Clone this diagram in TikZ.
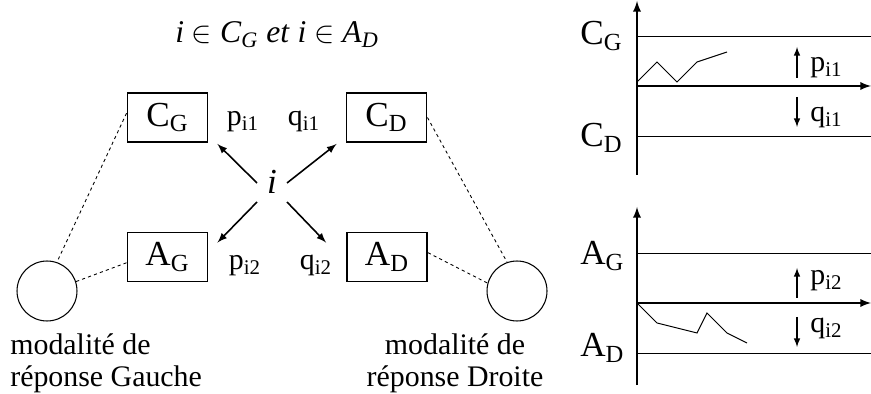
\documentclass[tikz,border=0pt]{standalone}
\usepackage{fontspec}
\setmainfont{Liberation Serif}
\usetikzlibrary{positioning}

\begin{document}
\begin{tikzpicture}[x=0.02cm, y=-0.02cm,
	boite/.style={draw, line width=1.1pt, minimum width=1.6cm, minimum height=0.98cm, inner sep=0pt, font=\fontsize{20}{23}\selectfont},
	etiq/.style={inner sep=0pt, font=\fontsize{17}{18.2}\selectfont},
	grand/.style={inner sep=0pt, font=\fontsize{20}{23}\selectfont},
	rond/.style={circle, draw, line width=0.6pt, minimum size=1.2cm, inner sep=0pt},
	fleche/.style={-latex, line width=0.9pt},
	pointille/.style={dash pattern=on 1.8pt off 1.8pt, line width=0.5pt},
	mince/.style={line width=0.55pt},
	axe/.style={-latex, line width=1.1pt}]

\useasboundingbox (0,0) rectangle (871,394);

% Titre
\node[inner sep=0pt, font=\fontsize{18}{20}\selectfont, anchor=base] (titre) at (277,43)
	{\textit{i} $\in$ \textit{C}\textsubscript{\textit{G}} \textit{et} \textit{i} $\in$ \textit{A}\textsubscript{\textit{D}}};

% Boites
\node[boite] (CG) at (167.5,117.5) {C\textsubscript{G}};
\node[boite] (CD) at (386.5,117.5) {C\textsubscript{D}};
\node[boite] (AG) at (167.5,257) {A\textsubscript{G}};
\node[boite] (AD) at (387,257) {A\textsubscript{D}};

\node[etiq, anchor=base] (p1) at (243,126) {p\textsubscript{i1}};
\node[etiq, anchor=base] (q1) at (304,126) {q\textsubscript{i1}};
\node[etiq, anchor=base] (p2) at (245,270) {p\textsubscript{i2}};
\node[etiq, anchor=base] (q2) at (316,270) {q\textsubscript{i2}};

\node[inner sep=0pt, font=\fontsize{20}{22}\selectfont] (i) at (272,181.5) {\textit{i}};

\draw[fleche] ([shift={(-15,1.5)}]i.center) -- ([shift={(9,1)}]CG.south east);
\draw[fleche] ([shift={(15,1.5)}]i.center) -- ([shift={(-9,1)}]CD.south west);
\draw[fleche] ([shift={(-15,20.5)}]i.center) -- ([shift={(9,11)}]AG.north east);
\draw[fleche] ([shift={(15,20.5)}]i.center) -- ([shift={(-20,11)}]AD.north west);

% Modalites
\node[rond] (mg) at (47,291) {};
\node[rond] (md) at (517,291) {};

\draw[pointille] (CG.174) -- (mg.71);
\draw[pointille] (AG.188) -- (mg.18);
\draw[pointille] (CD.east) -- (md.109);
\draw[pointille] (AD.6) -- (md.165);

\node[etiq, anchor=north west, align=left] (tg) at (10,333) {modalité de\\réponse Gauche};
\node[etiq, anchor=north, align=center] (td) at (455,333) {modalité de\\réponse Droite};

% Graphiques
\draw[axe] (637,175) -- (637,1);
\draw[axe] (637,385) -- (637,207);
\foreach \y in {36,136,253,353}
	\draw[mince] (637,\y) -- (871,\y);
\foreach \y in {86,303}
	\draw[axe] (637,\y) -- (871,\y);

\draw[mince] (637,82) -- (657,62) -- (677,82) -- (697,62) -- (727,52);
\draw[mince] (637,303) -- (657,323) -- (697,333) -- (707,313) -- (727,333) -- (747,343);

\draw[-latex, line width=0.7pt] (797,78) -- (797,47);
\draw[-latex, line width=0.7pt] (797,97) -- (797,127);
\draw[-latex, line width=0.7pt] (797,298) -- (797,268);
\draw[-latex, line width=0.7pt] (797,317) -- (797,347);

\node[grand, anchor=base west] (gCG) at (580,45) {C\textsubscript{G}};
\node[grand, anchor=base west] (gCD) at (580,147) {C\textsubscript{D}};
\node[grand, anchor=base west] (gAG) at (580,265) {A\textsubscript{G}};
\node[grand, anchor=base west] (gAD) at (580,357) {A\textsubscript{D}};

\node[etiq, anchor=base west] (gp1) at (810,72) {p\textsubscript{i1}};
\node[etiq, anchor=base west] (gq1) at (810,122) {q\textsubscript{i1}};
\node[etiq, anchor=base west] (gp2) at (810,285) {p\textsubscript{i2}};
\node[etiq, anchor=base west] (gq2) at (810,333) {q\textsubscript{i2}};
\end{tikzpicture}
\end{document}
